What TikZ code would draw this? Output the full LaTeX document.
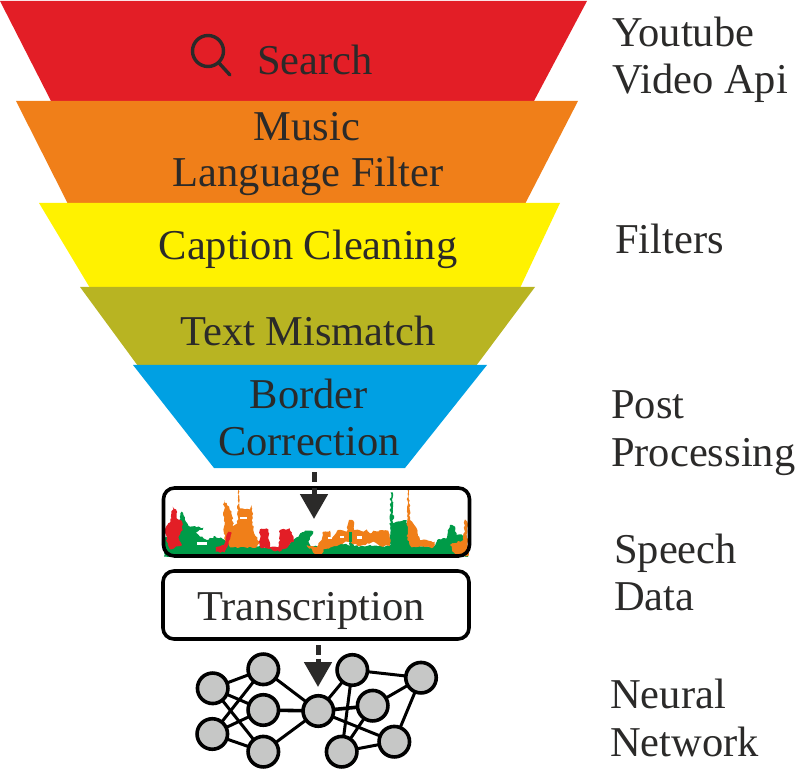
\documentclass[tikz,border=0pt]{standalone}
\usepackage{fontspec}
\setmainfont{Liberation Serif}
\usetikzlibrary{arrows.meta,decorations.pathmorphing}
\definecolor{inkdark}{HTML}{2B2A29}
\definecolor{fred}{HTML}{E31E26}
\definecolor{forange}{HTML}{F07F19}
\definecolor{fyellow}{HTML}{FFF200}
\definecolor{folive}{HTML}{B8B422}
\definecolor{fblue}{HTML}{00A0E3}
\definecolor{wgreen}{HTML}{009B48}
\definecolor{nodegrey}{HTML}{C6C7C6}
\pgfmathsetseed{7}
\tikzset{
  txt/.style={font=\fontsize{42.5}{42.5}\selectfont, text=inkdark, inner sep=0pt, anchor=base},
  sidetxt/.style={txt, anchor=base west},
  framebox/.style={draw=black, line width=3.6pt, rounded corners=11pt, fill=none},
  neuron/.style={circle, draw=black, line width=3.6pt, fill=nodegrey, minimum size=30.5pt, inner sep=0pt},
  synapse/.style={draw=black, line width=3pt},
  flow/.style={draw=inkdark, line width=5pt, -{Triangle[length=25pt,width=27pt,fill=inkdark]}},
  rough/.style={decorate, decoration={random steps, segment length=2.2pt, amplitude=1pt}}
}
\begin{document}
\begin{tikzpicture}[x=1pt,y=-1pt]
\useasboundingbox (0,0) rectangle (796,770);

% funnel layers
\fill[fred] (0,1) -- (587,1) -- (534,101) -- (51,101) -- cycle;
\fill[forange] (16,101) -- (578,101) -- (525,204) -- (68,204) -- cycle;
\fill[fyellow] (39,203) -- (560,203) -- (520,288) -- (90,288) -- cycle;
\fill[folive] (80,287) -- (535,287) -- (476,366) -- (138,366) -- cycle;
\fill[fblue] (133,365) -- (487,365) -- (405,468) -- (214,468) -- cycle;

% magnifier
\draw[inkdark, line width=3.4pt] (208,51) circle (15.5);
\draw[inkdark, line width=3.4pt, line cap=round] (219,63) -- (230,75);

% layer captions
\node[txt] (search) at (315,75) {Search};
\node[txt] (music) at (307,141) {Music};
\node[txt] (lang) at (308,187) {Language Filter};
\node[txt] (caption) at (308,260) {Caption Cleaning};
\node[txt] (mismatch) at (308,345) {Text Mismatch};
\node[txt] (border) at (309,408) {Border};
\node[txt] (correction) at (309,455) {Correction};

% side captions
\node[sidetxt] (yt) at (612,47) {Youtube};
\node[sidetxt] (api) at (612,94) {Video Api};
\node[sidetxt] (filters) at (615,254) {Filters};
\node[sidetxt] (post) at (611,418) {Post};
\node[sidetxt] (proc) at (611,466) {Processing};
\node[sidetxt] (speech) at (614,563) {Speech};
\node[sidetxt] (data) at (614,610) {Data};
\node[sidetxt] (neural) at (610,708) {Neural};
\node[sidetxt] (network) at (610,756) {Network};

% speech waveform
\begin{scope}[shift={(150,460)},x=0.33333pt,y=-0.33333pt]
\clip (40,85) rectangle (957,290);
\fill[wgreen, rough] (42,235) -- (60,225) -- (85,190) -- (95,155) -- (105,180) -- (120,200) -- (160,203) -- (158,210) -- (135,215) -- (150,230) -- (175,240) -- (195,228) -- (225,240) -- (240,258)
  -- (330,258) -- (355,265) -- (410,258) -- (440,232) -- (465,212) -- (490,215) -- (475,245) -- (482,258) -- (520,262) -- (560,245) -- (600,258) -- (600,215) -- (612,258) -- (720,258)
  -- (722,97) -- (728,97) -- (730,190) -- (770,180) -- (785,258) -- (855,258) -- (862,240) -- (890,235) -- (900,195) -- (915,200) -- (920,225) -- (945,225) -- (955,290) -- (42,290) -- cycle;
\fill[fred, rough] (42,212) -- (65,175) -- (68,140) -- (78,148) -- (80,175) -- (95,182) -- (97,212) -- (85,232) -- (96,255) -- (60,268) -- (50,240) -- cycle;
\fill[forange, rough] (222,120) -- (245,155) -- (250,198) -- (262,190) -- (265,90) -- (270,145) -- (300,150) -- (305,135) -- (310,210) -- (328,245) -- (320,262) -- (240,262) -- (225,240) -- (222,200) -- cycle;
\fill[fred, rough] (197,262) -- (222,255) -- (235,215) -- (245,218) -- (232,262) -- (225,277) -- (197,275) -- cycle;
\fill[fred, rough] (330,208) -- (355,208) -- (360,262) -- (385,262) -- (390,210) -- (420,205) -- (432,240) -- (410,265) -- (388,275) -- (350,265) -- (330,262) -- cycle;
\fill[fred] (385,282) -- (410,285) -- (410,290) -- (395,290) -- cycle;
\fill[forange, rough] (470,255) -- (500,262) -- (515,240) -- (520,215) -- (540,212) -- (545,235) -- (565,210) -- (590,215) -- (597,180) -- (610,182) -- (612,210) -- (640,215) -- (650,208) -- (660,220) -- (670,212) -- (715,212) -- (722,240) -- (720,258) -- (690,258) -- (670,245) -- (630,258) -- (590,245) -- (560,258) -- (520,268) -- (515,288) -- (495,282) -- cycle;
\fill[wgreen] (598,215) rectangle (606,245);
\fill[forange, rough] (772,88) -- (778,88) -- (780,180) -- (800,205) -- (810,240) -- (855,245) -- (850,262) -- (785,262) -- (772,240) -- cycle;
\fill[forange, rough] (945,178) -- (952,185) -- (955,288) -- (915,285) -- (900,255) -- (940,240) -- cycle;
\fill[white] (78,282) rectangle (106,288);
\fill[white] (333,282) rectangle (350,287);
\fill[white] (140,245) rectangle (170,255);
\fill[white] (560,282) rectangle (575,288);
\fill[white] (535,232) rectangle (545,238);
\fill[white] (570,228) rectangle (582,235);
\fill[white] (622,228) rectangle (636,236);
\fill[white] (270,170) rectangle (290,178);
\end{scope}

% data and transcription frames
\node[framebox, minimum width=306pt, minimum height=68pt, inner sep=0pt] (wave) at (316.5,522) {};
\node[framebox, minimum width=306pt, minimum height=68pt, inner sep=0pt] (trans) at (316,605) {};
\node[txt] (translabel) at (311,620) {Transcription};

% network: connections run first so that the discs sit on top
\coordinate (a) at (212.7,688.3);
\coordinate (b) at (263.3,669.3);
\coordinate (c) at (263.3,710);
\coordinate (d) at (212.3,734);
\coordinate (e) at (263.3,751.7);
\coordinate (f) at (318.3,711);
\coordinate (g) at (352.3,670);
\coordinate (h) at (372.7,705.7);
\coordinate (i) at (421,677.7);
\coordinate (j) at (394.3,741.7);
\coordinate (k) at (341.7,751.7);
\foreach \u/\v in {a/b,a/c,a/e,d/b,d/c,d/e,b/f,e/f,g/i,g/k,h/i,h/k,i/j,k/j,f/g,f/j}
  \draw[synapse] (\u) -- (\v);
\draw[synapse, line width=3.6pt] (c) -- (f);
\draw[synapse, line width=3.6pt] (f) -- (h);
\foreach \p in {a,b,c,d,e,f,g,h,i,j,k}
  \node[neuron] (n\p) at (\p) {};

% arrows
\coordinate (flowA) at (314,472);
\coordinate (flowB) at (318,645);
\draw[flow, dash pattern=on 10pt off 6pt] (flowA) -- (314,519);
\draw[flow, dash pattern=on 10pt off 3.5pt] (flowB) -- (318,687);
\end{tikzpicture}
\end{document}
